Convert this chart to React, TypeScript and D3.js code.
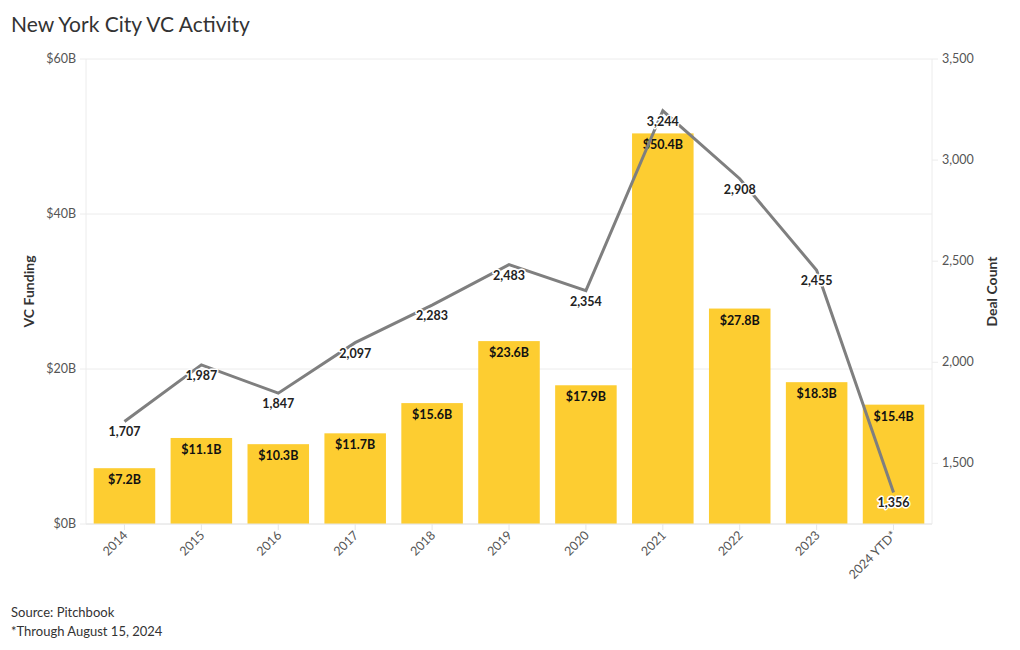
import * as d3 from "d3";

const years = ["2014", "2015", "2016", "2017", "2018", "2019", "2020", "2021", "2022", "2023", "2024 YTD*"];
const funding = [7.2, 11.1, 10.3, 11.7, 15.6, 23.6, 17.9, 50.4, 27.8, 18.3, 15.4];
const deals = [1707, 1987, 1847, 2097, 2283, 2483, 2354, 3244, 2908, 2455, 1356];
const fundingTicks = [0, 20, 40, 60];
const dealTicks = [1500, 2000, 2500, 3000, 3500];

const W = 1020;
const H = 650;
const FONT = "Lato, 'Noto Sans', sans-serif";
const BAR = "#fdcd31";
const LINE = "#7f7f7f";

const margin = { left: 86, right: 88, top: 59, bottom: 126 };

export default function App() {
  const x = d3
    .scaleBand<string>()
    .domain(years)
    .range([margin.left, W - margin.right])
    .paddingInner(0.2)
    .paddingOuter(0.1);
  const yL = d3.scaleLinear().domain([0, 60]).range([H - margin.bottom, margin.top]);
  const yR = d3.scaleLinear().domain([1200, 3500]).range([H - margin.bottom, margin.top]);

  const pts = years.map((y, i) => ({ x: x(y)! + x.bandwidth() / 2, y: yR(deals[i]), v: deals[i] }));
  const line = d3
    .line<{ x: number; y: number }>()
    .x((d) => d.x)
    .y((d) => d.y);

  const x0 = margin.left;
  const x1 = W - margin.right;
  const y0 = H - margin.bottom;

  return (
    <svg width={W} height={H} style={{ position: "absolute", left: 0, top: 0 }} fontFamily={FONT}>
      <text x={11} y={32} fontSize={21} fill="#333">
        New York City VC Activity
      </text>

      {/* grid */}
      {fundingTicks.map((t) => (
        <line key={t} x1={x0 - 6} x2={x1} y1={yL(t)} y2={yL(t)} stroke="#ececec" />
      ))}
      {dealTicks.map((t) => (
        <line key={t} x1={x1} x2={x1 + 6} y1={yR(t)} y2={yR(t)} stroke="#ececec" />
      ))}
      <line x1={x0} x2={x0} y1={margin.top} y2={y0} stroke="#ececec" />
      <line x1={x1} x2={x1} y1={margin.top} y2={y0} stroke="#ececec" />

      {/* bars */}
      {years.map((y, i) => (
        <rect key={y} x={x(y)} y={yL(funding[i])} width={x.bandwidth()} height={y0 - yL(funding[i])} fill={BAR} />
      ))}

      <line x1={x0} x2={x1} y1={y0} y2={y0} stroke="#e6e6e6" />
      {years.map((y) => (
        <line key={y} x1={x(y)! + x.bandwidth() / 2} x2={x(y)! + x.bandwidth() / 2} y1={y0} y2={y0 + 6} stroke="#e6e6e6" />
      ))}

      {/* bar labels */}
      {years.map((y, i) => (
        <text
          key={y}
          x={x(y)! + x.bandwidth() / 2}
          y={yL(funding[i]) + 16}
          textAnchor="middle"
          fontSize={12.5}
          fontWeight="bold"
          fill="#111"
        >
          ${funding[i].toFixed(1)}B
        </text>
      ))}

      {/* line */}
      <path d={line(pts) ?? ""} fill="none" stroke={LINE} strokeWidth={3} strokeLinejoin="miter" />
      {pts.map((p) => (
        <text
          key={p.x}
          x={p.x}
          y={p.y + 15}
          textAnchor="middle"
          fontSize={12.5}
          fontWeight="bold"
          fill="#222"
          stroke="#fff"
          strokeWidth={3}
          strokeLinejoin="round"
          paintOrder="stroke"
        >
          {d3.format(",")(p.v)}
        </text>
      ))}

      {/* left axis */}
      {fundingTicks.map((t) => (
        <text key={t} x={x0 - 10} y={yL(t) + 4} textAnchor="end" fontSize={12.5} fill="#555">
          ${t}B
        </text>
      ))}
      <text
        transform={`translate(34,${(margin.top + y0) / 2}) rotate(-90)`}
        textAnchor="middle"
        fontSize={14}
        fontWeight="bold"
        fill="#333"
      >
        VC Funding
      </text>

      {/* right axis */}
      {dealTicks.map((t) => (
        <text key={t} x={x1 + 10} y={yR(t) + 4} textAnchor="start" fontSize={12.5} fill="#555">
          {d3.format(",")(t)}
        </text>
      ))}
      <text
        transform={`translate(997,${(margin.top + y0) / 2}) rotate(-90)`}
        textAnchor="middle"
        fontSize={14}
        fontWeight="bold"
        fill="#333"
      >
        Deal Count
      </text>

      {/* x labels */}
      {years.map((y) => (
        <text
          key={y}
          transform={`translate(${x(y)! + x.bandwidth() / 2 + 4},${y0 + 12}) rotate(-45)`}
          textAnchor="end"
          fontSize={12.5}
          fill="#555"
        >
          {y}
        </text>
      ))}

      <text x={11} y={617} fontSize={13} fill="#333">
        Source: Pitchbook
      </text>
      <text x={11} y={636} fontSize={13} fill="#333">
        *Through August 15, 2024
      </text>
    </svg>
  );
}
